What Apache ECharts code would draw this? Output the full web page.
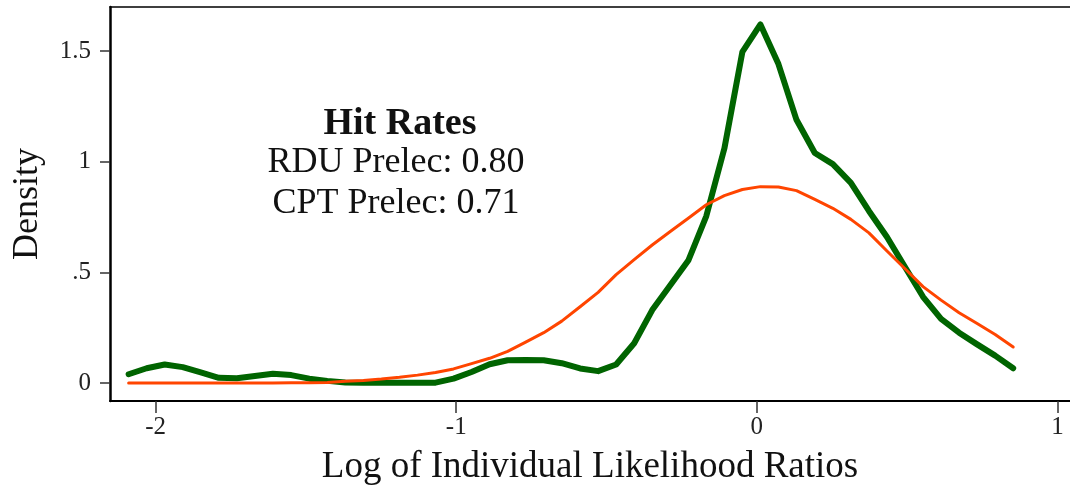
<!DOCTYPE html>
<html>
<head>
<meta charset="utf-8">
<script src="https://cdn.jsdelivr.net/npm/echarts@6/dist/echarts.min.js"></script>
<style>
  html, body { margin: 0; padding: 0; background: #fff; }
  #chart { width: 1070px; height: 491px; }
</style>
</head>
<body>
<div id="chart"></div>
<script>
// evaluation points of the two densities (log likelihood ratio)
var xPoints = [
  -2.090, -2.030, -1.970, -1.910, -1.850, -1.790, -1.730, -1.670, -1.610, -1.549,
  -1.489, -1.429, -1.369, -1.309, -1.249, -1.189, -1.129, -1.069, -1.009, -0.949,
  -0.889, -0.829, -0.769, -0.709, -0.649, -0.588, -0.528, -0.468, -0.408, -0.348,
  -0.288, -0.228, -0.168, -0.108, -0.048, 0.012, 0.072, 0.132, 0.193, 0.253,
  0.313, 0.373, 0.433, 0.493, 0.553, 0.613, 0.673, 0.733, 0.793, 0.853
];

// kernel density (green)
var kernelDensity = [
  0.040, 0.067, 0.084, 0.072, 0.048, 0.024, 0.022, 0.032, 0.042, 0.036,
  0.020, 0.010, 0.003, 0.001, 0.001, 0.001, 0.001, 0.002, 0.020, 0.050,
  0.085, 0.103, 0.104, 0.103, 0.090, 0.066, 0.054, 0.084, 0.180, 0.330,
  0.442, 0.554, 0.755, 1.060, 1.497, 1.621, 1.442, 1.190, 1.040, 0.990,
  0.905, 0.778, 0.660, 0.525, 0.390, 0.290, 0.228, 0.175, 0.124, 0.067
];

// normal density (orange)
var normalDensity = [
  0.000, 0.000, 0.000, 0.000, 0.000, 0.000, 0.000, 0.000, 0.000, 0.001,
  0.001, 0.003, 0.008, 0.012, 0.018, 0.026, 0.036, 0.048, 0.064, 0.088,
  0.112, 0.143, 0.185, 0.228, 0.280, 0.345, 0.410, 0.490, 0.558, 0.624,
  0.685, 0.745, 0.806, 0.847, 0.875, 0.888, 0.886, 0.870, 0.830, 0.790,
  0.740, 0.679, 0.597, 0.517, 0.436, 0.375, 0.318, 0.269, 0.220, 0.163
];

var xTicks = [-2, -1, 0, 1];
var yTicks = [0, 0.5, 1, 1.5];
var yTickLabels = ["0", ".5", "1", "1.5"];

var annotationTitle = "Hit Rates";
var annotationLines = ["RDU Prelec: 0.80", "CPT Prelec: 0.71"];

var font = "Liberation Serif";

function pairs(xs, ys) {
  var out = [];
  for (var i = 0; i < xs.length; i++) out.push([xs[i], ys[i]]);
  return out;
}

var myChart = echarts.init(document.getElementById("chart"));

var option = {
  animation: false,
  backgroundColor: "#fff",
  grid: { left: 110, right: 0, top: 7, bottom: 86 },
  xAxis: [
    {
      type: "value",
      min: -2.152,
      max: 1.042,
      position: "bottom",
      name: "Log of Individual Likelihood Ratios",
      nameLocation: "middle",
      nameGap: 48,
      nameTextStyle: { fontFamily: font, fontSize: 37, color: "#111" },
      axisLine: { show: true, onZero: false, lineStyle: { color: "#000", width: 2 } },
      axisTick: { show: true, length: 12, customValues: xTicks, lineStyle: { color: "#333", width: 1.5 } },
      axisLabel: {
        customValues: xTicks,
        fontFamily: font, fontSize: 25, color: "#222", margin: 14,
        formatter: function (v) { return String(v); }
      },
      splitLine: { show: false }
    },
    {
      type: "value",
      min: -2.152,
      max: 1.042,
      position: "top",
      axisLine: { show: true, onZero: false, lineStyle: { color: "#000", width: 1.5 } },
      axisTick: { show: false },
      axisLabel: { show: false },
      splitLine: { show: false }
    }
  ],
  yAxis: {
    type: "value",
    min: -0.081,
    max: 1.70,
    name: "Density",
    nameLocation: "middle",
    nameGap: 64,
    nameTextStyle: { fontFamily: font, fontSize: 36, color: "#111" },
    axisLine: { show: true, onZero: false, lineStyle: { color: "#000", width: 2.5 } },
    axisTick: { show: true, length: 10, customValues: yTicks, lineStyle: { color: "#333", width: 1.5 } },
    axisLabel: {
      customValues: yTicks,
      fontFamily: font, fontSize: 25, color: "#222", margin: 19,
      formatter: function (v) {
        var i = yTicks.indexOf(v);
        return i >= 0 ? yTickLabels[i] : "";
      }
    },
    splitLine: { show: false }
  },
  graphic: [
    {
      type: "text",
      x: 400, y: 105,
      style: {
        text: annotationTitle,
        align: "center", verticalAlign: "top",
        fontFamily: font, fontSize: 38, fontWeight: "bold", fill: "#111"
      }
    },
    {
      type: "text",
      x: 396, y: 142,
      style: {
        text: annotationLines.join("\n"),
        align: "center", verticalAlign: "top", lineHeight: 41,
        fontFamily: font, fontSize: 36, fill: "#111"
      }
    }
  ],
  series: [
    {
      name: "Normal",
      type: "line",
      data: pairs(xPoints, normalDensity),
      showSymbol: false,
      lineStyle: { color: "#ff4500", width: 3, cap: "round", join: "round" },
      z: 2
    },
    {
      name: "Kernel",
      type: "line",
      data: pairs(xPoints, kernelDensity),
      showSymbol: false,
      lineStyle: { color: "#006400", width: 6, cap: "round", join: "round" },
      z: 1
    }
  ]
};

myChart.setOption(option);
</script>
</body>
</html>
